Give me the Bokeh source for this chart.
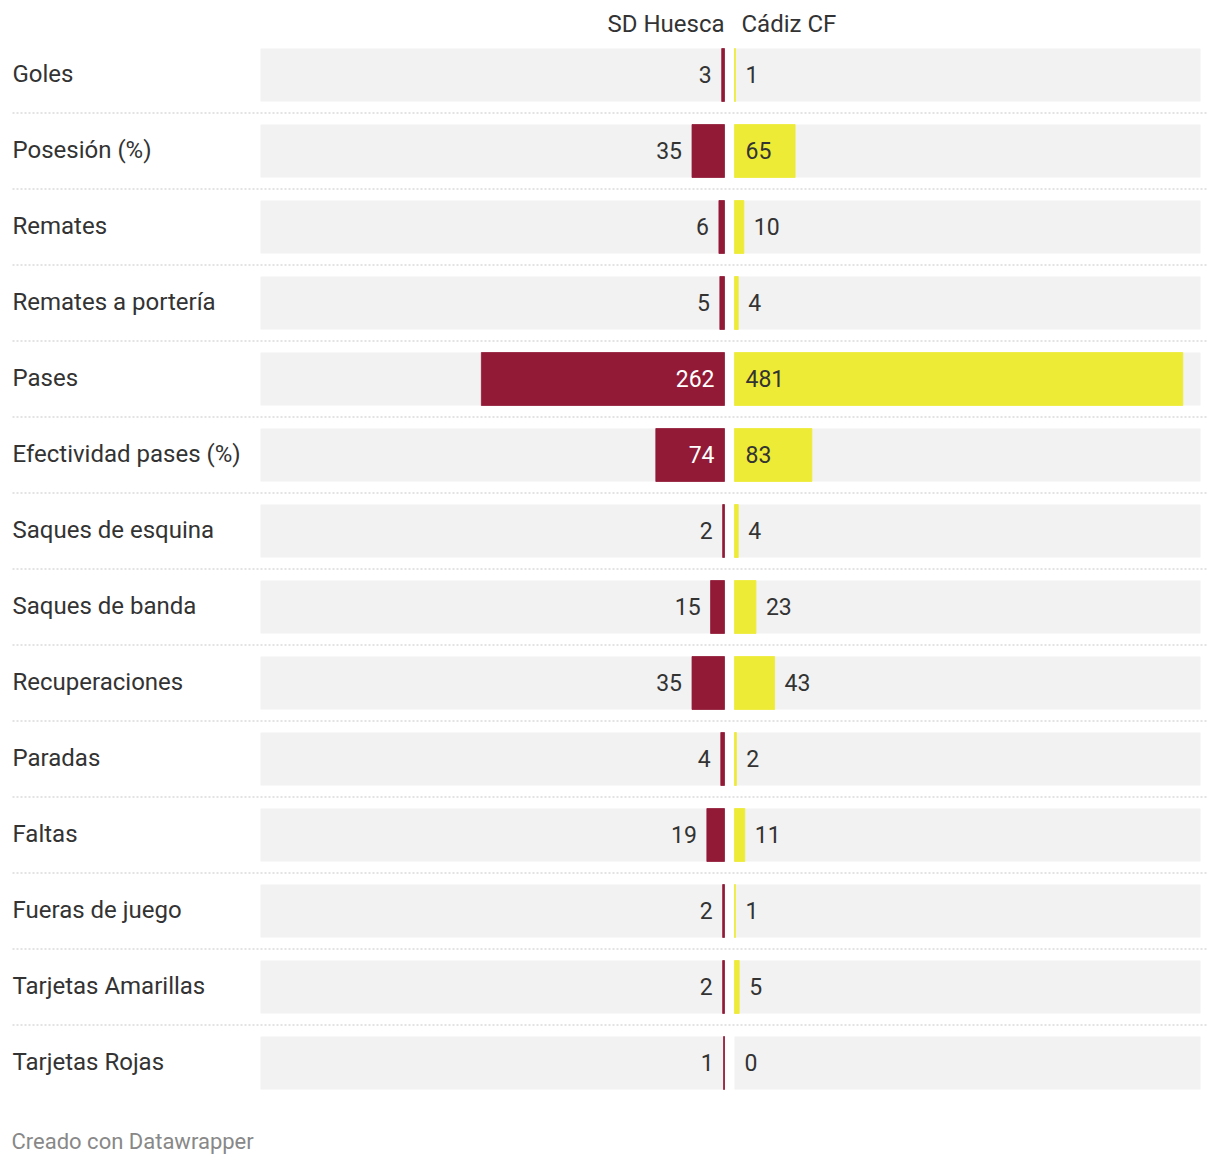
from bokeh.plotting import figure
from bokeh.models import Range1d, ColumnDataSource
from bokeh.embed import file_html
from bokeh.resources import INLINE
from bokeh.core.properties import value

# ---- data ----
categories = ["Goles", "Posesión (%)", "Remates", "Remates a portería", "Pases",
              "Efectividad pases (%)", "Saques de esquina", "Saques de banda",
              "Recuperaciones", "Paradas", "Faltas", "Fueras de juego",
              "Tarjetas Amarillas", "Tarjetas Rojas"]
huesca = [3, 35, 6, 5, 262, 74, 2, 15, 35, 4, 19, 2, 2, 1]
cadiz = [1, 65, 10, 4, 481, 83, 4, 23, 43, 2, 11, 1, 5, 0]
team_left = "SD Huesca"
team_right = "Cádiz CF"
domain_max = 500
footer = "Creado con Datawrapper"

# ---- layout constants (pixels) ----
W, H = 1212, 1160
left_zero_px, right_zero_px = 724, 734      # frame px of the two zero lines
kL, kR = 464 / domain_max, 466 / domain_max  # px per unit
row_px, first_row_px = 76, 74.5

MAROON = "#921a37"
YELLOW = "#eeeb36"
BG = "#f2f2f2"
TXT = "#333333"
FONT = "Roboto"

p = figure(width=W, height=H, output_backend="svg", toolbar_location=None,
           x_axis_type=None, y_axis_type=None, min_border=0,
           x_range=Range1d(0, W),
           y_range=Range1d((H - first_row_px) / row_px, -first_row_px / row_px))
p.outline_line_color = None
p.grid.visible = False
p.background_fill_color = "white"

sL = left_zero_px / kL
p.extra_x_ranges = {
    "L": Range1d(sL, sL - W / kL),
    "R": Range1d(-right_zero_px / kR, -right_zero_px / kR + W / kR),
}

n = len(categories)
rows = list(range(n))
src = ColumnDataSource(dict(
    y=rows, cat=categories, h=huesca, c=cadiz,
    zero=[0] * n, dmax=[domain_max] * n,
    ha=[1.0 if v > 0 else 0.0 for v in huesca],
    ca=[1.0 if v > 0 else 0.0 for v in cadiz],
))

bh = 53 / row_px
# backgrounds
p.hbar(y="y", left="zero", right="dmax", height=bh, fill_color=BG, line_color=None,
       source=src, x_range_name="L")
p.hbar(y="y", left="zero", right="dmax", height=bh, fill_color=BG, line_color=None,
       source=src, x_range_name="R")
# bars
p.hbar(y="y", left="zero", right="h", height=bh, fill_color=MAROON, line_color=MAROON,
       line_width=0.8, line_alpha="ha", fill_alpha="ha", source=src, x_range_name="L")
p.hbar(y="y", left="zero", right="c", height=bh, fill_color=YELLOW, line_color=YELLOW,
       line_width=0.8, line_alpha="ca", fill_alpha="ca", source=src, x_range_name="R")

# separators
p.segment(x0=[12] * (n - 1), x1=[1208] * (n - 1),
          y0=[i + 0.5 for i in range(n - 1)], y1=[i + 0.5 for i in range(n - 1)],
          line_color="#c8c8c8", line_width=1.2, line_dash="2 2")

common = dict(text_font=value(FONT), text_baseline="middle", y_offset=-1)

# category labels
p.text(x=12, y="y", text="cat", source=src, text_color=TXT, text_align="left",
       text_font_size="24px", **common)

# value labels
thr = 50
inL = [i for i in rows if huesca[i] * kL >= thr]
outL = [i for i in rows if huesca[i] * kL < thr]
inR = [i for i in rows if cadiz[i] * kR >= thr]
outR = [i for i in rows if cadiz[i] * kR < thr]

num = dict(common, text_font_size="23px")
p.text(x=[0] * len(inL), y=inL, text=[str(huesca[i]) for i in inL], x_range_name="L",
       x_offset=-10, text_align="right", text_color="white", **num)
p.text(x=[huesca[i] for i in outL], y=outL, text=[str(huesca[i]) for i in outL], x_range_name="L",
       x_offset=-10, text_align="right", text_color=TXT, **num)
p.text(x=[0] * len(inR), y=inR, text=[str(cadiz[i]) for i in inR], x_range_name="R",
       x_offset=11, text_align="left", text_color=TXT, **num)
p.text(x=[cadiz[i] for i in outR], y=outR, text=[str(cadiz[i]) for i in outR], x_range_name="R",
       x_offset=10, text_align="left", text_color=TXT, **num)

# headers
hdr = dict(common, text_font_size="24px")
p.text(x=[0], y=[-0.664], text=[team_left], x_range_name="L", text_align="right",
       text_color=TXT, **hdr)
p.text(x=[0], y=[-0.664], text=[team_right], x_range_name="R", text_align="left", x_offset=7,
       text_color=TXT, **hdr)

# footer
p.text(x=[11], y=[(1142 - first_row_px) / row_px], text=[footer], text_align="left",
       text_color="#888888", **dict(common, text_font_size="22px"))

open("out.html", "w").write(file_html(p, INLINE))
